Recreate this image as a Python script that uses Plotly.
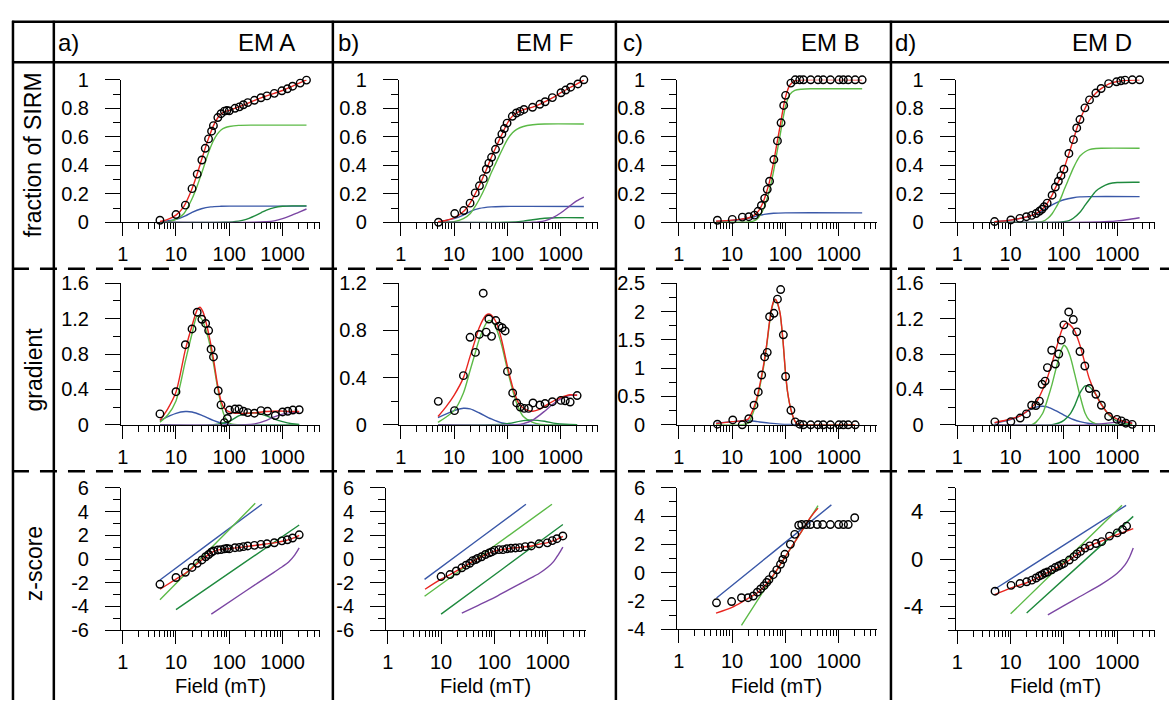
import plotly.graph_objects as go

W, H = 1169, 711
FONT = "Liberation Sans, Arial, sans-serif"

RED = '#e8251f'
LGREEN = '#5cba47'
BLUE = '#3a58a8'
DGREEN = '#1f8a3e'
PURPLE = '#7b46a3'

FIELD_TICKS = [1, 10, 100, 1000]
FIELD_TICK_TEXT = ['1', '10', '100', '1000']
FIELD_MINOR = [2, 3, 4, 5, 6, 7, 8, 9, 20, 30, 40, 50, 60, 70, 80, 90,
               200, 300, 400, 500, 600, 700, 800, 900, 2000, 3000, 4000, 5000]

COL_TITLES = ['EM A', 'EM F', 'EM B', 'EM D']
COL_LETTERS = ['a)', 'b)', 'c)', 'd)']
ROW_TITLES = ['fraction of SIRM', 'gradient', 'z-score']
X_TITLE = 'Field (mT)'

# ---------------- EM A : fraction of SIRM ----------------
A1_PTS_F = [5, 10, 15, 20, 25, 30.6, 35.4, 40.8, 46.5, 50.4, 61, 70, 81, 90, 100, 128, 155, 184, 222, 296, 393, 509, 700, 970, 1230, 1540, 2140, 2810]
A1_PTS_V = [0.014, 0.054, 0.12, 0.236, 0.338, 0.437, 0.519, 0.585, 0.639, 0.678, 0.735, 0.762, 0.78, 0.784, 0.782, 0.80, 0.81, 0.825, 0.84, 0.856, 0.874, 0.887, 0.905, 0.923, 0.937, 0.955, 0.977, 0.998]
A1_RED_F = [5, 7, 10, 14, 20, 25, 30, 35, 40, 50, 60, 70, 85, 100, 150, 200, 300, 500, 1000, 2000, 2810]
A1_RED_V = [0.005, 0.02, 0.05, 0.11, 0.235, 0.34, 0.435, 0.515, 0.58, 0.675, 0.73, 0.76, 0.778, 0.785, 0.81, 0.828, 0.856, 0.887, 0.925, 0.975, 1.0]
A1_LG_F = [5, 7, 10, 14, 20, 25, 30, 35, 40, 50, 60, 70, 85, 100, 150, 300, 2810]
A1_LG_V = [0, 0.003, 0.02, 0.06, 0.165, 0.255, 0.34, 0.415, 0.48, 0.57, 0.62, 0.648, 0.665, 0.672, 0.68, 0.682, 0.682]
A1_BL_F = [5, 10, 15, 20, 30, 45, 70, 100, 2810]
A1_BL_V = [0.002, 0.02, 0.045, 0.07, 0.095, 0.108, 0.112, 0.113, 0.113]
A1_DG_F = [5, 80, 150, 200, 300, 400, 500, 700, 1000, 1500, 2810]
A1_DG_V = [0, 0, 0.008, 0.018, 0.045, 0.068, 0.085, 0.103, 0.112, 0.115, 0.115]
A1_PU_F = [5, 300, 500, 700, 1000, 1500, 2000, 2810]
A1_PU_V = [0, 0, 0.004, 0.01, 0.025, 0.05, 0.07, 0.093]

# ---------------- EM F : fraction of SIRM ----------------
B1_PTS_F = [5.1, 10.3, 15.2, 20, 25, 30, 35.4, 40.3, 45, 50.6, 60, 70, 79, 88, 99, 124, 148, 173, 205, 297, 407, 512, 700, 1016, 1244, 1540, 2110, 2730]
B1_PTS_V = [0.0, 0.061, 0.082, 0.134, 0.206, 0.256, 0.306, 0.372, 0.415, 0.456, 0.512, 0.571, 0.619, 0.658, 0.696, 0.744, 0.767, 0.778, 0.792, 0.807, 0.828, 0.846, 0.875, 0.909, 0.928, 0.948, 0.971, 1.0]
B1_RED_F = [5, 7, 10, 15, 20, 25, 30, 40, 50, 60, 70, 80, 100, 125, 150, 200, 300, 500, 700, 1000, 1500, 2000, 2730]
B1_RED_V = [0.004, 0.012, 0.03, 0.075, 0.135, 0.2, 0.26, 0.365, 0.455, 0.52, 0.575, 0.62, 0.695, 0.745, 0.768, 0.79, 0.808, 0.845, 0.873, 0.908, 0.946, 0.97, 1.0]
B1_LG_F = [5, 10, 15, 20, 25, 30, 40, 50, 60, 70, 80, 100, 125, 150, 200, 300, 500, 2730]
B1_LG_V = [0, 0.004, 0.025, 0.06, 0.112, 0.163, 0.26, 0.347, 0.41, 0.464, 0.509, 0.58, 0.628, 0.652, 0.672, 0.684, 0.69, 0.69]
B1_BL_F = [5, 10, 15, 20, 30, 50, 80, 2730]
B1_BL_V = [0.003, 0.025, 0.05, 0.075, 0.097, 0.108, 0.111, 0.111]
B1_DG_F = [5, 100, 200, 300, 500, 800, 2730]
B1_DG_V = [0, 0, 0.008, 0.018, 0.028, 0.032, 0.032]
B1_PU_F = [5, 300, 500, 700, 1000, 1500, 2000, 2730]
B1_PU_V = [0, 0, 0.01, 0.03, 0.065, 0.115, 0.15, 0.177]

# ---------------- EM B : fraction of SIRM ----------------
C1_PTS_F = [5.3, 10.1, 15.6, 20.6, 26.3, 30.7, 35.5, 40.8, 45.7, 50.5, 60.8, 71, 83, 93, 101, 127, 153, 186, 218, 299, 409, 513, 701, 1013, 1222, 1513, 2040, 2760]
C1_PTS_V = [0.014, 0.02, 0.036, 0.039, 0.05, 0.077, 0.118, 0.168, 0.231, 0.288, 0.44, 0.571, 0.698, 0.82, 0.891, 0.977, 1.0, 1.0, 1.0, 1.0, 1.0, 1.0, 1.0, 1.0, 1.0, 1.0, 1.0, 1.0]
C1_RED_F = [5, 10, 15, 20, 25, 30, 35, 40, 45, 50, 60, 70, 80, 90, 100, 120, 150, 200, 2760]
C1_RED_V = [0.008, 0.015, 0.022, 0.03, 0.045, 0.07, 0.11, 0.16, 0.22, 0.28, 0.42, 0.56, 0.68, 0.79, 0.875, 0.96, 0.993, 1.0, 1.0]
C1_LG_F = [5, 20, 25, 30, 35, 40, 45, 50, 60, 70, 80, 90, 100, 120, 150, 200, 300, 2760]
C1_LG_V = [0, 0.002, 0.008, 0.025, 0.06, 0.105, 0.162, 0.22, 0.357, 0.496, 0.615, 0.724, 0.809, 0.894, 0.925, 0.934, 0.937, 0.937]
C1_BL_F = [5, 10, 20, 30, 40, 60, 100, 2760]
C1_BL_V = [0.005, 0.012, 0.028, 0.045, 0.055, 0.063, 0.066, 0.066]

# ---------------- EM D : fraction of SIRM ----------------
D1_PTS_F = [5.0, 10.1, 14.9, 19.8, 24.8, 30, 34.5, 38.6, 42.6, 48.5, 60, 69, 78.6, 88, 100, 124, 151, 174, 200, 248, 302, 397, 499, 690, 971, 1170, 1406, 1920, 2630]
D1_PTS_V = [0.005, 0.016, 0.027, 0.039, 0.048, 0.061, 0.077, 0.091, 0.109, 0.134, 0.19, 0.247, 0.288, 0.327, 0.372, 0.483, 0.58, 0.662, 0.721, 0.803, 0.859, 0.907, 0.939, 0.973, 0.986, 0.993, 0.998, 1.0, 1.0]
D1_RED_F = [5, 10, 15, 20, 25, 30, 40, 50, 60, 70, 80, 90, 100, 125, 150, 175, 200, 250, 300, 400, 500, 700, 1000, 1500, 2000, 2630]
D1_RED_V = [0.004, 0.015, 0.027, 0.038, 0.048, 0.061, 0.095, 0.14, 0.19, 0.245, 0.29, 0.33, 0.375, 0.485, 0.578, 0.66, 0.72, 0.8, 0.855, 0.907, 0.938, 0.972, 0.988, 0.996, 0.999, 1.0]
D1_LG_F = [5, 30, 40, 50, 60, 70, 80, 90, 100, 125, 150, 175, 200, 250, 300, 400, 500, 2630]
D1_LG_V = [0, 0, 0.006, 0.028, 0.06, 0.1, 0.14, 0.18, 0.225, 0.31, 0.38, 0.43, 0.465, 0.495, 0.51, 0.518, 0.52, 0.52]
D1_BL_F = [5, 10, 15, 20, 25, 30, 35, 40, 50, 60, 80, 100, 150, 200, 300, 2630]
D1_BL_V = [0.004, 0.015, 0.027, 0.038, 0.048, 0.058, 0.07, 0.082, 0.104, 0.122, 0.145, 0.158, 0.172, 0.178, 0.18, 0.18]
D1_DG_F = [5, 80, 100, 125, 150, 200, 250, 300, 400, 500, 700, 1000, 2630]
D1_DG_V = [0, 0, 0.004, 0.012, 0.028, 0.07, 0.12, 0.16, 0.22, 0.245, 0.27, 0.279, 0.281]
D1_PU_F = [5, 300, 700, 1000, 1500, 2630]
D1_PU_V = [0, 0, 0.005, 0.01, 0.018, 0.032]

# ---------------- EM A : gradient ----------------
A2_PTS_F = [5, 10, 15, 20, 25, 30.6, 36, 41, 45.5, 50.5, 62, 70, 81, 92, 101, 128, 152, 184, 222, 296, 393, 522, 730, 1000, 1250, 1560, 2050]
A2_PTS_V = [0.123, 0.374, 0.906, 1.084, 1.273, 1.193, 1.146, 1.066, 0.855, 0.767, 0.385, 0.225, 0.025, 0.072, 0.167, 0.178, 0.178, 0.153, 0.138, 0.131, 0.16, 0.153, 0.105, 0.145, 0.153, 0.167, 0.17]
A2_RED_F = [5, 7, 10, 15, 20, 25, 28, 32, 40, 50, 60, 70, 80, 100, 130, 200, 300, 500, 1000, 1500, 2050]
A2_RED_V = [0.05, 0.18, 0.37, 0.85, 1.12, 1.3, 1.33, 1.28, 1.06, 0.76, 0.46, 0.27, 0.19, 0.145, 0.13, 0.13, 0.135, 0.15, 0.155, 0.15, 0.15]
A2_LG_F = [5, 7, 10, 15, 20, 25, 30, 40, 50, 60, 70, 80, 100, 150, 2050]
A2_LG_V = [0.03, 0.11, 0.27, 0.72, 1.03, 1.23, 1.2, 0.99, 0.71, 0.43, 0.23, 0.11, 0.02, 0, 0]
A2_BL_F = [5, 10, 15, 20, 30, 50, 70, 100, 150, 2050]
A2_BL_V = [0.05, 0.13, 0.15, 0.145, 0.11, 0.05, 0.02, 0.005, 0, 0]
A2_DG_F = [5, 50, 100, 150, 200, 300, 500, 700, 1000, 1500, 2050]
A2_DG_V = [0, 0, 0.04, 0.1, 0.125, 0.135, 0.1, 0.065, 0.035, 0.012, 0.004]
A2_PU_F = [5, 200, 300, 500, 700, 1000, 1500, 2050]
A2_PU_V = [0, 0, 0.01, 0.05, 0.09, 0.12, 0.14, 0.14]

# ---------------- EM F : gradient ----------------
B2_PTS_F = [5.06, 10.2, 15, 20, 25.2, 29.8, 35.3, 40.2, 45, 50.6, 60.8, 70, 80, 91, 100.6, 126, 150, 175, 208, 250, 303, 408, 510, 700, 1010, 1222, 1510, 2040]
B2_PTS_V = [0.199, 0.12, 0.417, 0.742, 0.614, 0.766, 1.116, 0.786, 0.897, 0.75, 0.884, 0.837, 0.823, 0.796, 0.453, 0.27, 0.185, 0.15, 0.139, 0.139, 0.185, 0.168, 0.18, 0.196, 0.207, 0.204, 0.193, 0.248]
B2_RED_F = [5, 7, 10, 15, 20, 25, 30, 40, 45, 50, 60, 70, 80, 100, 130, 160, 200, 300, 400, 600, 1000, 1500, 2040]
B2_RED_V = [0.07, 0.15, 0.25, 0.4, 0.58, 0.72, 0.83, 0.93, 0.94, 0.93, 0.88, 0.8, 0.7, 0.5, 0.3, 0.19, 0.14, 0.115, 0.13, 0.18, 0.23, 0.255, 0.25]
B2_LG_F = [5, 10, 15, 20, 25, 30, 40, 45, 50, 60, 70, 80, 100, 130, 160, 200, 300, 400, 600, 2040]
B2_LG_V = [0.02, 0.12, 0.27, 0.46, 0.61, 0.73, 0.86, 0.885, 0.88, 0.83, 0.75, 0.66, 0.47, 0.27, 0.15, 0.07, 0.02, 0.005, 0, 0]
B2_BL_F = [5, 10, 15, 20, 30, 50, 80, 120, 150, 2040]
B2_BL_V = [0.06, 0.12, 0.14, 0.135, 0.1, 0.05, 0.015, 0.003, 0, 0]
B2_DG_F = [5, 50, 100, 200, 300, 500, 800, 1200, 2040]
B2_DG_V = [0, 0, 0.01, 0.035, 0.04, 0.03, 0.012, 0.004, 0]
B2_PU_F = [5, 150, 200, 300, 400, 500, 700, 1000, 1500, 2040]
B2_PU_V = [0, 0, 0.01, 0.04, 0.08, 0.115, 0.17, 0.22, 0.25, 0.25]

# ---------------- EM B : gradient ----------------
C2_PTS_F = [5.3, 10.3, 15.5, 20.6, 25.8, 31, 35.9, 40.8, 45.7, 50.6, 61, 71, 81.6, 91.7, 101, 127, 153, 186, 218, 299, 409, 513, 701, 1013, 1222, 1513, 2040]
C2_PTS_V = [0.01, 0.085, 0.0, 0.107, 0.346, 0.58, 0.88, 1.2, 1.28, 1.91, 1.97, 2.22, 2.39, 1.59, 0.853, 0.256, 0.051, 0.01, 0, 0, 0, 0, 0, 0, 0, 0, 0]
C2_RED_F = [5, 10, 15, 20, 25, 30, 35, 40, 45, 50, 55, 60, 65, 70, 75, 80, 90, 100, 110, 127, 150, 170, 200, 2040]
C2_RED_V = [0.02, 0.055, 0.07, 0.1, 0.28, 0.52, 0.82, 1.12, 1.45, 1.8, 2.05, 2.18, 2.22, 2.17, 2.08, 1.96, 1.5, 0.95, 0.58, 0.27, 0.07, 0.01, 0, 0]
C2_LG_F = [5, 15, 20, 25, 30, 35, 40, 45, 50, 55, 60, 65, 70, 75, 80, 90, 100, 110, 127, 150, 170, 200, 2040]
C2_LG_V = [0, 0, 0.03, 0.22, 0.47, 0.78, 1.08, 1.42, 1.77, 2.03, 2.16, 2.21, 2.16, 2.07, 1.95, 1.49, 0.94, 0.575, 0.267, 0.07, 0.01, 0, 0]
C2_BL_F = [5, 10, 15, 20, 30, 50, 80, 120, 200, 2040]
C2_BL_V = [0.03, 0.055, 0.07, 0.075, 0.055, 0.03, 0.012, 0.004, 0, 0]

# ---------------- EM D : gradient ----------------
D2_PTS_F = [5.06, 10.1, 15.1, 19.8, 24.8, 29.8, 34.7, 39, 44.4, 49, 59, 69, 80, 89.4, 99.7, 123, 150, 174, 200, 247, 301, 398, 505, 690, 990, 1200, 1450, 1910]
D2_PTS_V = [0.033, 0.036, 0.076, 0.123, 0.221, 0.218, 0.268, 0.458, 0.494, 0.647, 0.843, 0.687, 0.8, 0.957, 1.13, 1.276, 1.19, 1.051, 0.829, 0.665, 0.41, 0.345, 0.221, 0.094, 0.061, 0.044, 0.018, 0.005]
D2_RED_F = [5, 10, 15, 20, 30, 40, 50, 60, 70, 80, 90, 100, 110, 130, 160, 200, 260, 300, 400, 500, 700, 1000, 1500, 1910]
D2_RED_V = [0.025, 0.065, 0.1, 0.15, 0.25, 0.4, 0.55, 0.7, 0.84, 0.96, 1.06, 1.12, 1.15, 1.13, 1.06, 0.9, 0.65, 0.52, 0.34, 0.23, 0.12, 0.065, 0.03, 0.015]
D2_LG_F = [5, 25, 30, 40, 50, 60, 70, 80, 90, 100, 110, 130, 160, 200, 250, 300, 400, 500, 1910]
D2_LG_V = [0, 0, 0.03, 0.13, 0.3, 0.46, 0.62, 0.75, 0.85, 0.9, 0.88, 0.78, 0.57, 0.33, 0.13, 0.05, 0.01, 0, 0]
D2_BL_F = [5, 10, 15, 20, 30, 40, 50, 70, 100, 150, 200, 300, 500, 1000, 1910]
D2_BL_V = [0.02, 0.06, 0.1, 0.15, 0.2, 0.21, 0.2, 0.16, 0.11, 0.06, 0.035, 0.015, 0.005, 0, 0]
D2_DG_F = [5, 60, 80, 100, 130, 160, 200, 250, 300, 400, 500, 700, 1000, 1500, 1910]
D2_DG_V = [0, 0, 0.02, 0.05, 0.12, 0.22, 0.36, 0.44, 0.43, 0.34, 0.24, 0.11, 0.04, 0.01, 0.003]
D2_PU_F = [5, 300, 600, 1000, 1500, 1910]
D2_PU_V = [0, 0, 0.015, 0.03, 0.03, 0.025]

# ---------------- EM A : z-score ----------------
A3_PTS_F = [5, 10, 15, 20, 25, 30.6, 36, 41, 46, 50.5, 61, 70, 81, 90, 100, 128, 155, 184, 222, 296, 393, 509, 700, 970, 1230, 1540, 2050]
A3_PTS_V = [-2.13, -1.56, -1.12, -0.71, -0.36, -0.08, 0.19, 0.38, 0.57, 0.68, 0.76, 0.79, 0.85, 0.88, 0.85, 0.95, 0.98, 1.04, 1.1, 1.15, 1.23, 1.28, 1.37, 1.53, 1.62, 1.77, 2.04]
A3_RED_F = [5, 10, 15, 20, 25, 30, 40, 50, 60, 80, 100, 150, 200, 300, 500, 700, 1000, 1500, 2050]
A3_RED_V = [-2.55, -1.7, -1.2, -0.78, -0.4, -0.1, 0.35, 0.63, 0.75, 0.83, 0.87, 0.96, 1.04, 1.14, 1.27, 1.36, 1.5, 1.72, 2.0]
A3_BL_F = [5, 45, 410]
A3_BL_V = [-1.77, 1.42, 4.61]
A3_LG_F = [5, 40, 307]
A3_LG_V = [-3.44, 0.67, 4.69]
A3_DG_F = [10, 140, 2050]
A3_DG_V = [-4.26, -0.73, 2.86]
A3_PU_F = [46, 200, 700, 1000, 1300, 1700, 2050]
A3_PU_V = [-4.64, -2.72, -1.1, -0.63, -0.25, 0.35, 0.93]

# ---------------- EM F : z-score ----------------
B3_PTS_F = [10, 14.7, 19.3, 24.5, 29.5, 34.5, 39.2, 44.6, 48.4, 57.5, 68, 80, 89, 100, 122, 145, 172, 204, 249, 299, 380, 492, 690, 986, 1222, 1493, 1928]
B3_PTS_V = [-1.48, -1.31, -1.01, -0.74, -0.52, -0.36, -0.14, -0.05, 0.05, 0.19, 0.38, 0.52, 0.6, 0.73, 0.79, 0.79, 0.87, 0.9, 0.93, 0.96, 1.04, 1.1, 1.28, 1.36, 1.55, 1.71, 1.94]
B3_RED_F = [5, 10, 15, 20, 30, 40, 50, 60, 80, 100, 150, 200, 300, 500, 700, 1000, 1500, 1930]
B3_RED_V = [-2.55, -1.7, -1.3, -0.98, -0.52, -0.18, 0.06, 0.25, 0.5, 0.66, 0.82, 0.9, 0.98, 1.1, 1.25, 1.38, 1.65, 1.9]
B3_BL_F = [4.9, 44, 391]
B3_BL_V = [-1.72, 1.45, 4.61]
B3_LG_F = [4.9, 77, 1205]
B3_LG_V = [-3.14, 0.74, 4.61]
B3_DG_F = [10, 140, 1930]
B3_DG_V = [-4.64, -0.86, 2.91]
B3_PU_F = [24.5, 50, 100, 184, 400, 700, 1000, 1300, 1600, 1930]
B3_PU_V = [-4.55, -3.9, -3.25, -2.6, -1.8, -1.2, -0.7, -0.2, 0.4, 1.0]

# ---------------- EM B : z-score ----------------
C3_PTS_F = [5.1, 9.8, 15, 20, 25, 29.8, 34.4, 39.8, 44.6, 49.2, 59, 69, 81, 89.5, 98, 124, 150, 178, 202, 246, 295, 396, 503, 698, 1000, 1232, 1510, 2000]
C3_PTS_V = [-2.13, -2.04, -1.77, -1.77, -1.65, -1.38, -1.15, -0.92, -0.69, -0.49, -0.14, 0.2, 0.59, 0.93, 1.3, 2.0, 2.71, 3.35, 3.4, 3.4, 3.4, 3.4, 3.4, 3.4, 3.4, 3.4, 3.4, 3.88]
C3_RED_F = [5, 10, 15, 20, 25, 30, 40, 50, 60, 70, 80, 100, 130, 160, 200, 300, 410]
C3_RED_V = [-2.86, -2.45, -2.1, -1.82, -1.6, -1.42, -0.98, -0.55, -0.15, 0.22, 0.56, 1.13, 1.8, 2.33, 2.9, 3.94, 4.56]
C3_LG_F = [15, 80, 410]
C3_LG_V = [-3.73, 0.55, 4.74]
C3_BL_F = [5.1, 60, 730]
C3_BL_V = [-1.79, 1.47, 4.79]

# ---------------- EM D : z-score ----------------
D3_PTS_F = [5.1, 10.2, 15, 20, 25, 30, 34.8, 39, 43.7, 49, 59, 68.7, 79.6, 90, 100, 126, 154, 175, 205, 249, 305, 400, 510, 716, 1000, 1260, 1500]
D3_PTS_V = [-2.71, -2.22, -2.06, -1.92, -1.78, -1.6, -1.43, -1.32, -1.18, -1.1, -0.91, -0.72, -0.59, -0.47, -0.37, -0.09, 0.2, 0.43, 0.64, 0.92, 1.11, 1.3, 1.46, 1.93, 2.2, 2.48, 2.77]
D3_RED_F = [5, 10, 20, 30, 50, 100, 150, 200, 300, 500, 700, 1000, 1500, 2000]
D3_RED_V = [-3.0, -2.45, -2.0, -1.65, -1.12, -0.4, 0.15, 0.6, 1.1, 1.5, 1.8, 2.05, 2.35, 2.56]
D3_BL_F = [5, 80, 1470]
D3_BL_V = [-2.55, 0.9, 4.52]
D3_LG_F = [10, 110, 1230]
D3_LG_V = [-4.62, -0.07, 4.52]
D3_DG_F = [20, 200, 2000]
D3_DG_V = [-4.54, -0.475, 3.59]
D3_PU_F = [50, 100, 200, 520, 1000, 1400, 1700, 2000]
D3_PU_V = [-4.7, -3.93, -3.16, -2.1, -1.2, -0.5, 0.15, 0.92]

# ---------------- y axis ticks ----------------
FRAC_MAJOR = [0, 0.2, 0.4, 0.6, 0.8, 1]
FRAC_LABELS = ['0', '0.2', '0.4', '0.6', '0.8', '1']
FRAC_MINOR = [0.1, 0.3, 0.5, 0.7, 0.9]
GRAD16_MAJOR = [0, 0.4, 0.8, 1.2, 1.6]
GRAD16_LABELS = ['0', '0.4', '0.8', '1.2', '1.6']
GRAD16_MINOR = [0.2, 0.6, 1.0, 1.4]
GRAD12_MAJOR = [0, 0.4, 0.8, 1.2]
GRAD12_LABELS = ['0', '0.4', '0.8', '1.2']
GRAD12_MINOR = [0.2, 0.6, 1.0]
GRAD25_MAJOR = [0, 0.5, 1, 1.5, 2, 2.5]
GRAD25_LABELS = ['0', '0.5', '1', '1.5', '2', '2.5']
GRAD25_MINOR = [0.25, 0.75, 1.25, 1.75, 2.25]
Z6_MAJOR = [-6, -4, -2, 0, 2, 4, 6]
Z6_LABELS = ['-6', '-4', '-2', '0', '2', '4', '6']
Z6_MINOR = [-5, -3, -1, 1, 3, 5]
Z4_MAJOR = [-4, -2, 0, 2, 4, 6]
Z4_LABELS = ['-4', '-2', '0', '2', '4', '6']
Z4_MINOR = [-3, -1, 1, 3, 5]
ZD_MAJOR = [-4, 0, 4]
ZD_LABELS = ['-4', '0', '4']
ZD_MINOR = [-6, -5, -3, -2, -1, 1, 2, 3, 5, 6]

# ---------------- panel table (built from the arrays above) ----------------
P = [
    dict(col=0, row=0, pts=(A1_PTS_F, A1_PTS_V), red=(A1_RED_F, A1_RED_V),
         comps=[(BLUE, A1_BL_F, A1_BL_V), (LGREEN, A1_LG_F, A1_LG_V), (DGREEN, A1_DG_F, A1_DG_V), (PURPLE, A1_PU_F, A1_PU_V)],
         yr=[0, 1], yt=(FRAC_MAJOR, FRAC_LABELS, FRAC_MINOR)),
    dict(col=1, row=0, pts=(B1_PTS_F, B1_PTS_V), red=(B1_RED_F, B1_RED_V),
         comps=[(BLUE, B1_BL_F, B1_BL_V), (LGREEN, B1_LG_F, B1_LG_V), (DGREEN, B1_DG_F, B1_DG_V), (PURPLE, B1_PU_F, B1_PU_V)],
         yr=[0, 1], yt=(FRAC_MAJOR, FRAC_LABELS, FRAC_MINOR)),
    dict(col=2, row=0, pts=(C1_PTS_F, C1_PTS_V), red=(C1_RED_F, C1_RED_V),
         comps=[(BLUE, C1_BL_F, C1_BL_V), (LGREEN, C1_LG_F, C1_LG_V)],
         yr=[0, 1], yt=(FRAC_MAJOR, FRAC_LABELS, FRAC_MINOR)),
    dict(col=3, row=0, pts=(D1_PTS_F, D1_PTS_V), red=(D1_RED_F, D1_RED_V),
         comps=[(BLUE, D1_BL_F, D1_BL_V), (LGREEN, D1_LG_F, D1_LG_V), (DGREEN, D1_DG_F, D1_DG_V), (PURPLE, D1_PU_F, D1_PU_V)],
         yr=[0, 1], yt=(FRAC_MAJOR, FRAC_LABELS, FRAC_MINOR)),
    dict(col=0, row=1, pts=(A2_PTS_F, A2_PTS_V), red=(A2_RED_F, A2_RED_V),
         comps=[(BLUE, A2_BL_F, A2_BL_V), (LGREEN, A2_LG_F, A2_LG_V), (DGREEN, A2_DG_F, A2_DG_V), (PURPLE, A2_PU_F, A2_PU_V)],
         yr=[0, 1.6], yt=(GRAD16_MAJOR, GRAD16_LABELS, GRAD16_MINOR)),
    dict(col=1, row=1, pts=(B2_PTS_F, B2_PTS_V), red=(B2_RED_F, B2_RED_V),
         comps=[(BLUE, B2_BL_F, B2_BL_V), (LGREEN, B2_LG_F, B2_LG_V), (DGREEN, B2_DG_F, B2_DG_V), (PURPLE, B2_PU_F, B2_PU_V)],
         yr=[0, 1.2], yt=(GRAD12_MAJOR, GRAD12_LABELS, GRAD12_MINOR)),
    dict(col=2, row=1, pts=(C2_PTS_F, C2_PTS_V), red=(C2_RED_F, C2_RED_V),
         comps=[(BLUE, C2_BL_F, C2_BL_V), (LGREEN, C2_LG_F, C2_LG_V)],
         yr=[0, 2.5], yt=(GRAD25_MAJOR, GRAD25_LABELS, GRAD25_MINOR)),
    dict(col=3, row=1, pts=(D2_PTS_F, D2_PTS_V), red=(D2_RED_F, D2_RED_V),
         comps=[(BLUE, D2_BL_F, D2_BL_V), (LGREEN, D2_LG_F, D2_LG_V), (DGREEN, D2_DG_F, D2_DG_V), (PURPLE, D2_PU_F, D2_PU_V)],
         yr=[0, 1.6], yt=(GRAD16_MAJOR, GRAD16_LABELS, GRAD16_MINOR)),
    dict(col=0, row=2, pts=(A3_PTS_F, A3_PTS_V), red=(A3_RED_F, A3_RED_V),
         comps=[(BLUE, A3_BL_F, A3_BL_V), (LGREEN, A3_LG_F, A3_LG_V), (DGREEN, A3_DG_F, A3_DG_V), (PURPLE, A3_PU_F, A3_PU_V)],
         yr=[-6, 6], yt=(Z6_MAJOR, Z6_LABELS, Z6_MINOR)),
    dict(col=1, row=2, pts=(B3_PTS_F, B3_PTS_V), red=(B3_RED_F, B3_RED_V),
         comps=[(BLUE, B3_BL_F, B3_BL_V), (LGREEN, B3_LG_F, B3_LG_V), (DGREEN, B3_DG_F, B3_DG_V), (PURPLE, B3_PU_F, B3_PU_V)],
         yr=[-6, 6], yt=(Z6_MAJOR, Z6_LABELS, Z6_MINOR)),
    dict(col=2, row=2, pts=(C3_PTS_F, C3_PTS_V), red=(C3_RED_F, C3_RED_V),
         comps=[(BLUE, C3_BL_F, C3_BL_V), (LGREEN, C3_LG_F, C3_LG_V)],
         yr=[-4, 6], yt=(Z4_MAJOR, Z4_LABELS, Z4_MINOR)),
    dict(col=3, row=2, pts=(D3_PTS_F, D3_PTS_V), red=(D3_RED_F, D3_RED_V),
         comps=[(BLUE, D3_BL_F, D3_BL_V), (LGREEN, D3_LG_F, D3_LG_V), (DGREEN, D3_DG_F, D3_DG_V), (PURPLE, D3_PU_F, D3_PU_V)],
         yr=[-6, 6], yt=(ZD_MAJOR, ZD_LABELS, ZD_MINOR), yfont=22),
]

# ---------------- layout geometry (pixels) ----------------
COL_LEFT = [117.5, 396.5, 675.5, 955.0]
COL_LEFT_ROW3_B = 383.5
PANEL_W = 200.0
ROW_TB = [(71, 218), (281, 427), (492, 639)]
XRANGE = [-0.03, 3.71]
TICK_SIZE = 20


def xdom(l, r):
    return [l / W, r / W]


def ydom(t, b):
    return [1 - b / H, 1 - t / H]


fig = go.Figure()
layout = dict(
    width=W, height=H, margin=dict(l=0, r=0, t=0, b=0),
    paper_bgcolor='white', plot_bgcolor='white', showlegend=False,
    font=dict(family=FONT, color='black', size=TICK_SIZE),
)

axis_line = dict(showline=True, linecolor='black', linewidth=1.3, showgrid=False,
                 zeroline=False, ticks='outside', tickcolor='black', tickwidth=1.3,
                 fixedrange=True)

annotations = []
for k, p in enumerate(P, start=1):
    xs = 'x' if k == 1 else f'x{k}'
    ys = 'y' if k == 1 else f'y{k}'
    xa = 'xaxis' if k == 1 else f'xaxis{k}'
    ya = 'yaxis' if k == 1 else f'yaxis{k}'
    left = COL_LEFT[p['col']]
    if p['row'] == 2 and p['col'] == 1:
        left = COL_LEFT_ROW3_B
    t, b = ROW_TB[p['row']]
    if p['row'] == 2 and p['col'] == 2:
        b = 638
    layout[xa] = dict(axis_line, type='log', range=XRANGE, domain=xdom(left, left + PANEL_W),
                      anchor=ys, tickmode='array', tickvals=FIELD_TICKS, ticktext=FIELD_TICK_TEXT,
                      ticklen=13, ticklabelstandoff=1, layer='below traces',
                      tickfont=dict(family=FONT, size=TICK_SIZE, color='black'),
                      minor=dict(tickmode='array', tickvals=FIELD_MINOR, ticklen=6,
                                 tickwidth=1.3, tickcolor='black', ticks='outside', showgrid=False))
    major, labels, minor = p['yt']
    layout[ya] = dict(axis_line, range=p['yr'], domain=ydom(t, b), anchor=xs,
                      tickmode='array', tickvals=major, ticktext=labels, ticklen=15,
                      ticklabelstandoff=12, layer='below traces',
                      tickfont=dict(family=FONT, size=p.get('yfont', TICK_SIZE), color='black'),
                      minor=dict(tickmode='array', tickvals=minor, ticklen=7,
                                 tickwidth=1.3, tickcolor='black', ticks='outside', showgrid=False))
    for color, fx, fv in p['comps']:
        fig.add_trace(go.Scatter(x=fx, y=fv, mode='lines', xaxis=xs, yaxis=ys,
                                 line=dict(color=color, width=1.4, shape='spline', smoothing=0.8),
                                 hoverinfo='skip'))
    rf, rv = p['red']
    fig.add_trace(go.Scatter(x=rf, y=rv, mode='lines', xaxis=xs, yaxis=ys,
                             line=dict(color=RED, width=1.4, shape='spline', smoothing=0.8),
                             hoverinfo='skip'))
    pf, pv = p['pts']
    fig.add_trace(go.Scatter(x=pf, y=pv, mode='markers', xaxis=xs, yaxis=ys, cliponaxis=False,
                             marker=dict(symbol='circle-open', size=7.5, color='black',
                                         line=dict(color='black', width=1.4))))
    if p['row'] == 2:
        annotations.append(dict(text=X_TITLE, xref='paper', yref='paper',
                                x=(left + PANEL_W / 2) / W, y=1 - 697 / H, showarrow=False,
                                xanchor='center', yanchor='middle',
                                font=dict(family=FONT, size=20, color='black')))

# header texts
LETTER_X = [52, 333, 619, 892]
TITLE_RIGHT = [294, 573, 861, 1134]
for i in range(4):
    annotations.append(dict(text=COL_LETTERS[i], xref='paper', yref='paper', x=LETTER_X[i] / W,
                            y=1 - 32 / H, xanchor='left', yanchor='middle', showarrow=False,
                            font=dict(family=FONT, size=24, color='black')))
    annotations.append(dict(text=COL_TITLES[i], xref='paper', yref='paper', x=TITLE_RIGHT[i] / W,
                            y=1 - 32 / H, xanchor='right', yanchor='middle', showarrow=False,
                            font=dict(family=FONT, size=24, color='black')))
ROW_LABEL_Y = [148, 370, 570]
for i in range(3):
    annotations.append(dict(text=ROW_TITLES[i], xref='paper', yref='paper', x=30 / W,
                            y=1 - ROW_LABEL_Y[i] / H, xanchor='center', yanchor='middle',
                            textangle=-90, showarrow=False,
                            font=dict(family=FONT, size=23, color='black')))

# table frame
shapes = []


def hline(y, dash='solid'):
    shapes.append(dict(type='line', xref='paper', yref='paper', x0=8 / W, x1=1.0,
                       y0=1 - y / H, y1=1 - y / H, line=dict(color='black', width=2.5, dash=dash)))


def vline(x):
    shapes.append(dict(type='line', xref='paper', yref='paper', x0=x / W, x1=x / W,
                       y0=0, y1=1 - 10 / H, line=dict(color='black', width=2.5)))


hline(11)
hline(53)
hline(266, '17px,11px')
hline(475, '17px,11px')
for xv in [9, 50, 330, 614, 890]:
    vline(xv)

layout['annotations'] = annotations
layout['shapes'] = shapes
fig.update_layout(**layout)
fig.write_html("out.html")
